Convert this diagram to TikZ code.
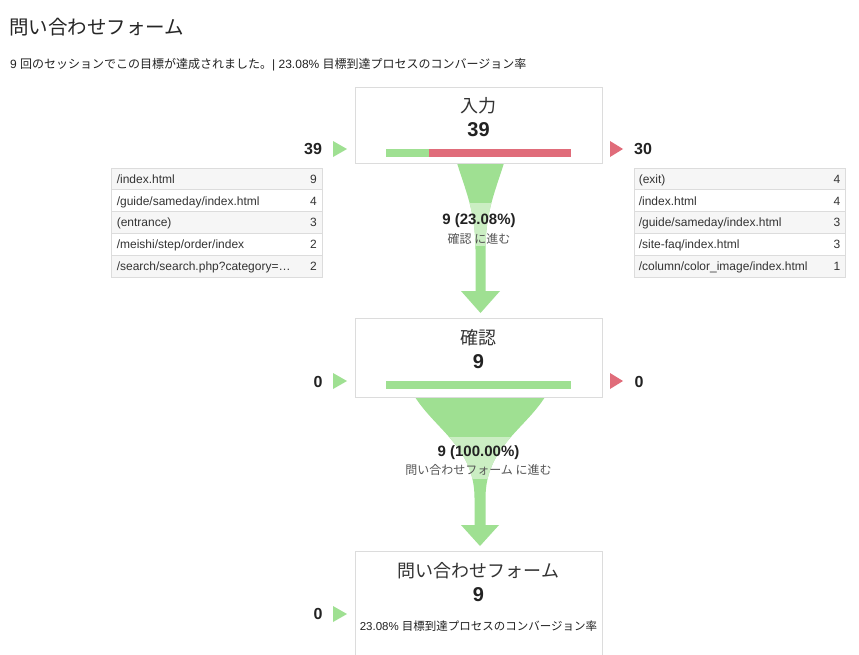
\documentclass[tikz,border=0pt]{standalone}
\usepackage{fontspec}
\setmainfont{Liberation Sans}
\newfontfamily\jp{Noto Sans CJK JP}
\definecolor{fgreen}{HTML}{9FE092}
\definecolor{fgreenl}{HTML}{CBEEC3}
\definecolor{fred}{HTML}{E06C7A}
\definecolor{bordc}{HTML}{DCDCDC}
\definecolor{rowg}{HTML}{F6F6F6}
\definecolor{txt}{HTML}{222222}
\definecolor{tabtxt}{HTML}{333333}
\definecolor{subtxt}{HTML}{555555}
\tikzset{
  stepbox/.style={draw=bordc, fill=white, line width=1pt, minimum width=247, inner sep=0},
  plain/.style={inner sep=0, text=txt},
  bignum/.style={plain, font=\fontsize{20}{20}\selectfont\bfseries},
  sidenum/.style={plain, font=\fontsize{16}{16}\selectfont\bfseries},
  steptitle/.style={plain, text=black!80, font=\fontsize{18}{18}\selectfont\jp},
  flownum/.style={plain, font=\fontsize{15}{15}\selectfont\bfseries},
  flowlbl/.style={inner sep=0, text=subtxt, font=\fontsize{12}{12}\selectfont\jp},
  tabrow/.style={draw=bordc, line width=0.8pt, minimum width=211, minimum height=21.8, inner sep=0},
  tabtext/.style={inner sep=0, text=tabtxt, font=\fontsize{12}{12}\selectfont},
  intri/.style={fill=fgreen, draw=none},
  outtri/.style={fill=fred, draw=none},
}
\begin{document}
\begin{tikzpicture}[x=1pt,y=-1pt]
\clip (0,0) rectangle (859,654);
\fill[white] (0,0) rectangle (859,654);

% header
\node[plain, text=black!85, anchor=west, font=\fontsize{19.5}{19.5}\selectfont\jp] (title) at (9,27.5) {問い合わせフォーム};
\node[plain, anchor=west, font=\fontsize{12}{12}\selectfont] (sub) at (10,65)
  {9 {\jp 回のセッションでこの目標が達成されました。}| 23.08\% {\jp 目標到達プロセスのコンバージョン率}};

% funnel 1
\path[fill=fgreen] (457,163) .. controls (466,192) and (475.5,212) .. (475.5,250) -- (475.5,291) -- (461,291) -- (480.5,313) -- (500,291) -- (485.5,291) -- (485.5,250) .. controls (485.5,212) and (495,192) .. (504,163) -- cycle;
\begin{scope}
\clip (400,203) rectangle (560,245);
\path[fill=fgreenl] (457,163) .. controls (466,192) and (475.5,212) .. (475.5,250) -- (485.5,250) .. controls (485.5,212) and (495,192) .. (504,163) -- cycle;
\end{scope}

% funnel 2
\path[fill=fgreen] (415,397) .. controls (436,430) and (474.5,448) .. (474.5,498) -- (474.5,525) -- (461,525) -- (480,546) -- (499,525) -- (485.5,525) -- (485.5,498) .. controls (485.5,448) and (524,430) .. (545,397) -- cycle;
\begin{scope}
\clip (400,437) rectangle (560,478);
\path[fill=fgreenl] (415,397) .. controls (436,430) and (474.5,448) .. (474.5,498) -- (485.5,498) .. controls (485.5,448) and (524,430) .. (545,397) -- cycle;
\end{scope}

% step 1
\node[stepbox, minimum height=76] (b1) at (478.5,125) {};
\node[steptitle] (b1t) at (478.5,106) {入力};
\node[bignum] (b1n) at (478.5,130) {39};
\fill[fgreen] (386,149) rectangle (429,157);
\fill[fred] (429,149) rectangle (571,157);
\node[sidenum] (in1) at (313,149) {39};
\path[intri] (333,141) -- (347,149) -- (333,157) -- cycle;
\path[outtri] (610,141) -- (623,149) -- (610,157) -- cycle;
\node[sidenum, anchor=west] (out1) at (634,149) {30};

% step 2
\node[stepbox, minimum height=79] (b2) at (478.5,357.5) {};
\node[steptitle] (b2t) at (478.5,338) {確認};
\node[bignum] (b2n) at (478.5,361.5) {9};
\fill[fgreen] (386,381) rectangle (571,389);
\node[sidenum] (in2) at (318,381.5) {0};
\path[intri] (333,373) -- (347,381) -- (333,389) -- cycle;
\path[outtri] (610,373) -- (623,381) -- (610,389) -- cycle;
\node[sidenum] (out2) at (639,381.5) {0};

% step 3
\node[stepbox, minimum height=112] (b3) at (478.5,607) {};
\node[steptitle] (b3t) at (478.5,571) {問い合わせフォーム};
\node[bignum] (b3n) at (478.5,594.5) {9};
\node[plain, font=\fontsize{11.5}{11.5}\selectfont] (b3c) at (478.5,626.5) {23.08\% {\jp 目標到達プロセスのコンバージョン率}};
\node[sidenum] (in3) at (318,614) {0};
\path[intri] (333,606) -- (347,614) -- (333,622) -- cycle;

% flow labels
\node[flownum] (f1n) at (479,220.5) {9 (23.08\%)};
\node[flowlbl] (f1l) at (479,239) {確認 に進む};
\node[flownum] (f2n) at (478.5,452.5) {9 (100.00\%)};
\node[flowlbl] (f2l) at (478.5,470) {問い合わせフォーム に進む};

% left table
\foreach \i/\t/\n/\c in {1/{/index.html}/9/rowg, 2/{/guide/sameday/index.html}/4/white, 3/{(entrance)}/3/rowg, 4/{/meishi/step/order/index}/2/white, 5/{/search/search.php?category=…}/2/rowg}{
  \node[tabrow, fill=\c] (L\i) at (217, 168+21.8*\i-10.9) {};
  \node[tabtext, anchor=base west] (Lt\i) at ([xshift=5.5,yshift=-4.4]L\i.west) {\t};
  \node[tabtext, anchor=base east] (Ln\i) at ([xshift=-6,yshift=-4.4]L\i.east) {\n};
}
% right table
\foreach \i/\t/\n/\c in {1/{(exit)}/4/rowg, 2/{/index.html}/4/white, 3/{/guide/sameday/index.html}/3/rowg, 4/{/site-faq/index.html}/3/white, 5/{/column/color\_image/index.html}/1/rowg}{
  \node[tabrow, fill=\c] (R\i) at (739.5, 168+21.8*\i-10.9) {};
  \node[tabtext, anchor=base west] (Rt\i) at ([xshift=5,yshift=-4.4]R\i.west) {\t};
  \node[tabtext, anchor=base east] (Rn\i) at ([xshift=-5,yshift=-4.4]R\i.east) {\n};
}
\end{tikzpicture}
\end{document}
